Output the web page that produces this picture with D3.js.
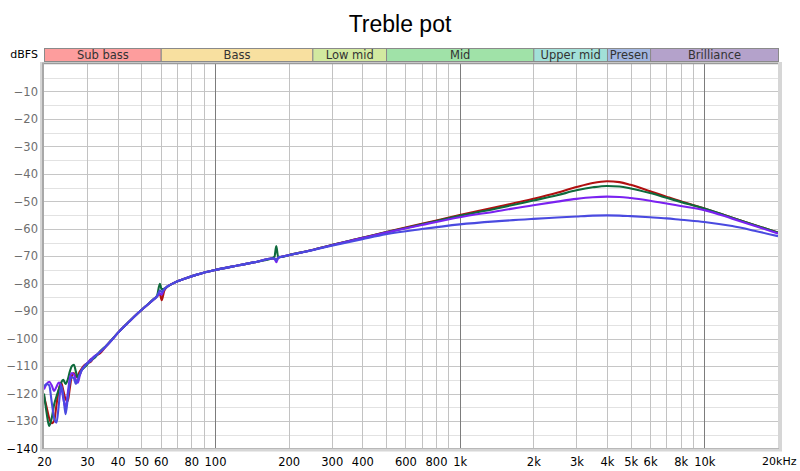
<!DOCTYPE html>
<html>
<head>
<meta charset="utf-8">
<script src="https://cdn.jsdelivr.net/npm/d3@7"></script>
<style>
  body { margin: 0; background: #fff; }
  svg text { font-family: "DejaVu Sans", Verdana, sans-serif; }
</style>
</head>
<body>
<svg id="chart" width="800" height="471"></svg>
<script>

//----------------------------------data----------------------------------------

const freq = [20, 20.5, 21, 21.5, 22, 22.5, 23, 23.5, 24, 24.5, 25, 25.5, 26, 26.5, 27, 27.5, 28, 28.5, 29, 30,
  31, 32, 34, 36, 38, 40, 44, 48, 52, 56, 58, 59.5, 60.5, 62, 64, 68,
  75, 85, 100, 125, 150, 170, 175, 178, 181, 185, 200, 250, 300, 400, 500, 700,
  1000, 1400, 2000, 2500, 3000, 3500, 4000, 4500, 5000, 6000, 7000, 8000, 10000, 13000, 16000, 20000];

const redDb = [-121, -125, -129, -130.8, -130, -124, -118.5, -116, -119, -122, -122.8, -118, -113.5, -112.5, -114, -113.5, -112, -111, -110, -109,
  -108.5, -106.8, -105.2, -102.6, -100.3, -98, -94.3, -91, -88.3, -85.8, -84.6, -83.6, -86, -82.6, -81, -79.7,
  -78.2, -76.6, -75, -73.3, -71.9, -70.8, -70.9, -71.3, -70.6, -70.3, -69.6, -67.7, -65.9, -63.3, -61.2, -58.2,
  -55.0, -52.2, -49.1, -46.9, -44.8, -43.3, -42.7, -43.0, -44.0, -46.3, -48.3, -50.0, -52.6, -56.0, -58.6, -61.4];

const greenDb = [-120, -127, -131.8, -129, -124, -121, -118.5, -116, -115, -116.5, -115, -112, -110, -109.5, -112, -114.2, -113, -111.5, -110.8, -109.5,
  -107.6, -107.2, -104.5, -102.5, -100.2, -98, -94.2, -91, -88.2, -85.7, -84.3, -80, -82, -81.8, -81, -79.7,
  -78.2, -76.6, -75, -73.3, -71.9, -70.8, -70.2, -66.3, -70.1, -70.3, -69.6, -67.7, -65.9, -63.3, -61.3, -58.4,
  -55.3, -52.7, -49.7, -47.8, -46.0, -44.9, -44.4, -44.6, -45.3, -47.0, -48.7, -50.2, -52.6, -56.0, -58.6, -61.4];

const purpleDb = [-118.5, -116.5, -115.7, -117, -119, -117.5, -116, -117.5, -122, -125, -120, -114.5, -112.5, -113, -115, -116, -113.5, -111.5, -110.5, -109,
  -107.6, -106.5, -104.8, -102.6, -100.3, -98, -94.3, -91, -88.3, -85.8, -84.6, -83.6, -84, -82, -81, -79.7,
  -78.2, -76.6, -75, -73.3, -71.9, -70.8, -70.9, -72.2, -70.7, -70.3, -69.6, -67.7, -66.0, -63.4, -61.4, -58.6,
  -55.8, -53.7, -51.4, -50.1, -49.1, -48.5, -48.3, -48.4, -48.8, -49.8, -50.8, -51.7, -53.2, -56.3, -58.9, -61.7];

const blueDb = [-117.5, -116.5, -117, -123, -129, -130.6, -124, -117, -121, -127.5, -122, -116, -114, -114.5, -116.5, -115, -113, -111.5, -110.5, -109,
  -108.2, -106.8, -104.8, -102.6, -100.3, -98, -94.3, -91, -88.3, -85.8, -84.6, -82.5, -83, -82, -81, -79.7,
  -78.2, -76.6, -75, -73.3, -71.9, -70.8, -70.8, -71.5, -70.6, -70.3, -69.6, -67.8, -66.2, -63.8, -62.0, -60.1,
  -58.4, -57.3, -56.4, -55.9, -55.5, -55.2, -55.1, -55.2, -55.4, -55.8, -56.2, -56.7, -57.5, -59.0, -60.7, -62.7];

const seriesNames = ["red", "green", "purple", "blue"];
const seriesColors = ["#b01010", "#0e6a3c", "#7a22f0", "#4a4ae0"];

const bandNames = ["Sub bass", "Bass", "Low mid", "Mid", "Upper mid", "Presen", "Brilliance"];
const bandEdges = [20, 60, 250, 500, 2000, 4000, 6000, 20000];
const bandColors = ["#fd9d9d", "#f8e0a0", "#d2e9a0", "#a0e2a8", "#a2e0d8", "#a2b6e0", "#b4a2cb"];

const xTickValues = [20, 30, 40, 50, 60, 80, 100, 200, 300, 400, 600, 800, 1000, 2000, 3000, 4000, 5000, 6000, 8000, 10000, 20000];
const xTickLabels = ["20", "30", "40", "50", "60", "80", "100", "200", "300", "400", "600", "800",
  "1k", "2k", "3k", "4k", "5k", "6k", "8k", "10k", "20kHz"];
const yTickValues = [-10, -20, -30, -40, -50, -60, -70, -80, -90, -100, -110, -120, -130, -140];

//--------------------------------layout----------------------------------------

const svg = d3.select("#chart");
const plot = {left: 44, right: 778, top: 64, bottom: 448.5};

let x = d3.scaleLog().domain([20, 20000]).range([plot.left, plot.right]);
let y = d3.scaleLinear().domain([-140, 0]).range([plot.bottom, plot.top]);

//Title
svg.append("text")
    .attr("x", 400).attr("y", 32)
    .attr("text-anchor", "middle")
    .style("font-family", "'Liberation Sans', Arial, sans-serif")
    .style("font-size", "23px")
    .attr("fill", "#000")
    .text("Treble pot");

//Unit label
svg.append("text")
    .attr("x", 38).attr("y", 58)
    .attr("text-anchor", "end")
    .style("font-size", "11px")
    .attr("fill", "#000")
    .text("dBFS");

//Frequency band strip
let bands = svg.append("g");
bandNames.forEach((name, i) => {
  let x0 = x(bandEdges[i]), x1 = x(bandEdges[i + 1]);
  bands.append("rect")
      .attr("x", x0 + 0.5).attr("y", 48.5)
      .attr("width", x1 - x0).attr("height", 13)
      .attr("fill", bandColors[i])
      .attr("stroke", "#8a8a8a");
  bands.append("text")
      .attr("x", (x0 + x1) / 2 + 0.5).attr("y", 59)
      .attr("text-anchor", "middle")
      .style("font-size", "11.5px")
      .attr("fill", "#333")
      .text(name);
});

//Plot frame with its grey bevel
svg.append("rect")
    .attr("x", plot.left - 4).attr("y", plot.top - 2)
    .attr("width", plot.right - plot.left + 8).attr("height", plot.bottom - plot.top + 5)
    .attr("fill", "#d6d6d6");
svg.append("rect")
    .attr("x", plot.left - 2).attr("y", plot.top - 1.5)
    .attr("width", 2).attr("height", plot.bottom - plot.top + 2)
    .attr("fill", "#a8a8a8");
svg.append("rect")
    .attr("x", plot.left).attr("y", plot.top)
    .attr("width", plot.right - plot.left).attr("height", plot.bottom - plot.top)
    .attr("fill", "#fff");

//Grid: light 5 dB lines, darker 10 dB lines, one vertical line per 1..9 step
let grid = svg.append("g");
d3.range(-135, 0, 10).forEach(v => {
  grid.append("line")
      .attr("x1", plot.left).attr("x2", plot.right)
      .attr("y1", Math.round(y(v)) + 0.5).attr("y2", Math.round(y(v)) + 0.5)
      .attr("stroke", "#e2e2e2");
});
yTickValues.slice(0, -1).forEach(v => {
  grid.append("line")
      .attr("x1", plot.left).attr("x2", plot.right)
      .attr("y1", Math.round(y(v)) + 0.5).attr("y2", Math.round(y(v)) + 0.5)
      .attr("stroke", "#c6c6c6");
});
x.ticks(30).filter(f => f > 20 && f < 20000).forEach(f => {
  let decade = (f === 100 || f === 1000 || f === 10000);
  grid.append("line")
      .attr("x1", Math.round(x(f)) + 0.5).attr("x2", Math.round(x(f)) + 0.5)
      .attr("y1", plot.top).attr("y2", plot.bottom)
      .attr("stroke", decade ? "#7c7c7c" : "#c2c2c2");
});
//Top and bottom edges
grid.append("line")
    .attr("x1", plot.left).attr("x2", plot.right)
    .attr("y1", plot.top - 0.5).attr("y2", plot.top - 0.5)
    .attr("stroke", "#9a9a9a").attr("stroke-width", 1.5);
grid.append("line")
    .attr("x1", plot.left).attr("x2", plot.right + 1)
    .attr("y1", plot.bottom).attr("y2", plot.bottom)
    .attr("stroke", "#b8b8b8");

//Axes labels
let yAxis = d3.axisLeft(y).tickValues(yTickValues).tickSize(0).tickPadding(6);
svg.append("g")
    .attr("transform", `translate(${plot.left},0)`)
    .call(yAxis)
    .call(g => g.select(".domain").remove())
    .call(g => g.selectAll("text")
        .style("font-size", "11.5px")
        .attr("fill", d => d === -140 ? "#000" : "#6e6e6e"));

let xAxis = d3.axisBottom(x).tickValues(xTickValues).tickSize(0).tickPadding(9)
    .tickFormat((d, i) => xTickLabels[i]);
svg.append("g")
    .attr("transform", `translate(0,${plot.bottom})`)
    .call(xAxis)
    .call(g => g.select(".domain").remove())
    .call(g => g.selectAll("text")
        .style("font-size", d => d === 20000 ? "11px" : "11.5px")
        .attr("fill", "#000")
        .attr("text-anchor", d => d === 20000 ? "end" : "middle")
        .attr("dx", d => d === 20000 ? 18 : 0)); //20kHz sits flush with the right edge

//Curves
svg.append("clipPath").attr("id", "plotClip")
  .append("rect")
    .attr("x", plot.left).attr("y", plot.top)
    .attr("width", plot.right - plot.left).attr("height", plot.bottom - plot.top);

let allSeries = [redDb, greenDb, purpleDb, blueDb];
let line = d3.line()
    .x(d => x(d[0]))
    .y(d => y(d[1]))
    .curve(d3.curveMonotoneX);

svg.append("g").attr("clip-path", "url(#plotClip)")
  .selectAll("path")
  .data(allSeries)
  .enter().append("path")
    .attr("class", (d, i) => "series " + seriesNames[i])
    .attr("d", d => line(d3.zip(freq, d)))
    .attr("fill", "none")
    .attr("stroke", (d, i) => seriesColors[i])
    .attr("stroke-width", 2.1)
    .attr("stroke-linejoin", "round");

</script>
</body>
</html>
